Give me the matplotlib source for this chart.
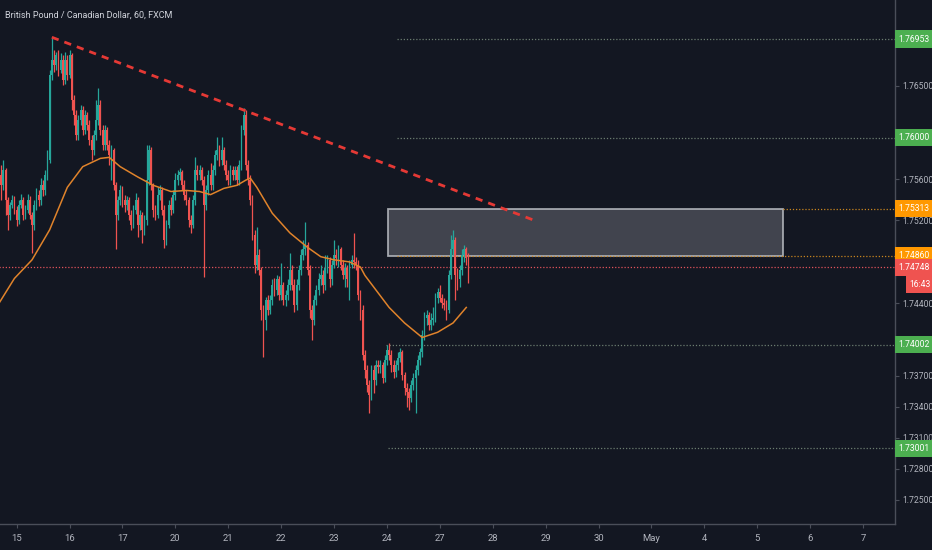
import numpy as np
import matplotlib.pyplot as plt
from matplotlib.patches import Rectangle

# --- GBPCAD 60 min candles (hour index 0 = start of the 15th) ---
first_open = 1.7564
closes = [
    1.7554, 1.7569, 1.7540, 1.7525, 1.7535, 1.7540, 1.7530,
    1.7520, 1.7535, 1.7540, 1.7525, 1.7530, 1.7540, 1.7525, 1.7516, 1.7535, 1.7545, 1.7540, 1.7554,
    1.7549, 1.7564, 1.7578, 1.7661, 1.7675, 1.7670, 1.7680, 1.7665, 1.7675, 1.7656, 1.7675, 1.7661,
    1.7680, 1.7636, 1.7622, 1.7603, 1.7617, 1.7627, 1.7607, 1.7622, 1.7612, 1.7598, 1.7588, 1.7603,
    1.7617, 1.7632, 1.7607, 1.7593, 1.7607, 1.7593, 1.7583, 1.7588, 1.7554, 1.7525, 1.7540, 1.7549,
    1.7540, 1.7535, 1.7540, 1.7525, 1.7516, 1.7530, 1.7540, 1.7516, 1.7525, 1.7511, 1.7520, 1.7559,
    1.7588, 1.7554, 1.7530, 1.7525, 1.7545, 1.7549, 1.7530, 1.7501, 1.7516, 1.7535, 1.7530, 1.7545,
    1.7559, 1.7564, 1.7567, 1.7554, 1.7545, 1.7540, 1.7520, 1.7516, 1.7540, 1.7569, 1.7564, 1.7569,
    1.7559, 1.7535, 1.7549, 1.7564, 1.7554, 1.7569, 1.7583, 1.7588, 1.7578, 1.7588, 1.7574, 1.7564,
    1.7559, 1.7569, 1.7564, 1.7569, 1.7559, 1.7574, 1.7607, 1.7622, 1.7574, 1.7559, 1.7540, 1.7506,
    1.7477, 1.7487, 1.7472, 1.7434, 1.7424, 1.7443, 1.7434, 1.7443, 1.7458, 1.7453, 1.7463, 1.7448,
    1.7458, 1.7443, 1.7448, 1.7458, 1.7472, 1.7458, 1.7438, 1.7458, 1.7472, 1.7487, 1.7492, 1.7496,
    1.7472, 1.7434, 1.7424, 1.7443, 1.7453, 1.7463, 1.7467, 1.7458, 1.7474, 1.7482, 1.7463, 1.7477,
    1.7487, 1.7484, 1.7492, 1.7477, 1.7467, 1.7474, 1.7463, 1.7477, 1.7482, 1.7480, 1.7477, 1.7448,
    1.7434, 1.7390, 1.7376, 1.7361, 1.7351, 1.7376, 1.7366, 1.7380, 1.7378, 1.7380, 1.7368, 1.7385,
    1.7395, 1.7390, 1.7380, 1.7374, 1.7380, 1.7387, 1.7393, 1.7371, 1.7358, 1.7354, 1.7349, 1.7361,
    1.7368, 1.7376, 1.7385, 1.7393, 1.7409, 1.7426, 1.7429, 1.7419, 1.7424, 1.7426, 1.7445, 1.7451,
    1.7445, 1.7440, 1.7438, 1.7434, 1.7467, 1.7492, 1.7501, 1.7467, 1.7463, 1.7472, 1.7487, 1.7492,
    1.7484, 1.74748,
]
highs = [
    1.7574, 1.7578, 1.7571, 1.7543, 1.7538, 1.7545, 1.7544,
    1.7534, 1.7540, 1.7546, 1.7543, 1.7535, 1.7546, 1.7544, 1.7528, 1.7540, 1.7551, 1.7549, 1.7561,
    1.7559, 1.7569, 1.7588, 1.7665, 1.7697, 1.7685, 1.7683, 1.7685, 1.7682, 1.7680, 1.7683, 1.7680,
    1.7685, 1.7682, 1.7641, 1.7627, 1.7622, 1.7632, 1.7631, 1.7627, 1.7625, 1.7617, 1.7603, 1.7607,
    1.7636, 1.7648, 1.7636, 1.7612, 1.7612, 1.7610, 1.7598, 1.7593, 1.7590, 1.7557, 1.7544, 1.7554,
    1.7553, 1.7545, 1.7544, 1.7543, 1.7530, 1.7535, 1.7547, 1.7543, 1.7530, 1.7528, 1.7525, 1.7593,
    1.7593, 1.7591, 1.7556, 1.7535, 1.7552, 1.7554, 1.7552, 1.7535, 1.7520, 1.7540, 1.7543, 1.7549,
    1.7566, 1.7569, 1.7571, 1.7569, 1.7559, 1.7549, 1.7543, 1.7525, 1.7545, 1.7581, 1.7574, 1.7574,
    1.7572, 1.7563, 1.7554, 1.7569, 1.7576, 1.7574, 1.7588, 1.7601, 1.7593, 1.7601, 1.7591, 1.7578,
    1.7569, 1.7574, 1.7573, 1.7573, 1.7573, 1.7578, 1.7612, 1.7629, 1.7627, 1.7578, 1.7564, 1.7545,
    1.7511, 1.7514, 1.7492, 1.7475, 1.7438, 1.7446, 1.7448, 1.7448, 1.7463, 1.7464, 1.7467, 1.7466,
    1.7479, 1.7461, 1.7453, 1.7463, 1.7489, 1.7477, 1.7463, 1.7463, 1.7477, 1.7492, 1.7501, 1.7519,
    1.7499, 1.7477, 1.7438, 1.7448, 1.7458, 1.7469, 1.7477, 1.7472, 1.7487, 1.7487, 1.7485, 1.7482,
    1.7501, 1.7492, 1.7496, 1.7494, 1.7482, 1.7479, 1.7477, 1.7482, 1.7487, 1.7508, 1.7485, 1.7482,
    1.7453, 1.7438, 1.7395, 1.7380, 1.7366, 1.7380, 1.7380, 1.7385, 1.7385, 1.7385, 1.7383, 1.7390,
    1.7400, 1.7402, 1.7395, 1.7385, 1.7385, 1.7393, 1.7397, 1.7395, 1.7374, 1.7363, 1.7358, 1.7366,
    1.7373, 1.7380, 1.7390, 1.7397, 1.7414, 1.7432, 1.7434, 1.7432, 1.7431, 1.7436, 1.7450, 1.7455,
    1.7458, 1.7449, 1.7445, 1.7443, 1.7472, 1.7506, 1.7511, 1.7504, 1.7474, 1.7477, 1.7492, 1.7496,
    1.7494, 1.7489,
]
lows = [
    1.7540, 1.7549, 1.7525, 1.7511, 1.7520, 1.7532, 1.7526,
    1.7515, 1.7517, 1.7532, 1.7520, 1.7521, 1.7527, 1.7521, 1.7489, 1.7511, 1.7530, 1.7534, 1.7535,
    1.7544, 1.7545, 1.7559, 1.7576, 1.7656, 1.7663, 1.7665, 1.7660, 1.7662, 1.7651, 1.7652, 1.7656,
    1.7658, 1.7627, 1.7612, 1.7598, 1.7598, 1.7612, 1.7603, 1.7604, 1.7607, 1.7593, 1.7578, 1.7583,
    1.7598, 1.7612, 1.7603, 1.7588, 1.7588, 1.7588, 1.7574, 1.7559, 1.7549, 1.7492, 1.7520, 1.7535,
    1.7533, 1.7528, 1.7530, 1.7520, 1.7511, 1.7513, 1.7526, 1.7504, 1.7511, 1.7498, 1.7506, 1.7516,
    1.7554, 1.7549, 1.7523, 1.7520, 1.7522, 1.7540, 1.7525, 1.7493, 1.7496, 1.7513, 1.7525, 1.7527,
    1.7540, 1.7554, 1.7559, 1.7549, 1.7540, 1.7535, 1.7514, 1.7508, 1.7513, 1.7535, 1.7559, 1.7559,
    1.7554, 1.7465, 1.7530, 1.7545, 1.7549, 1.7549, 1.7564, 1.7578, 1.7573, 1.7574, 1.7569, 1.7559,
    1.7554, 1.7554, 1.7559, 1.7559, 1.7554, 1.7554, 1.7569, 1.7603, 1.7569, 1.7554, 1.7535, 1.7501,
    1.7469, 1.7472, 1.7467, 1.7424, 1.7388, 1.7414, 1.7429, 1.7430, 1.7438, 1.7447, 1.7448, 1.7443,
    1.7443, 1.7438, 1.7437, 1.7443, 1.7453, 1.7453, 1.7432, 1.7434, 1.7453, 1.7467, 1.7482, 1.7487,
    1.7467, 1.7426, 1.7405, 1.7419, 1.7438, 1.7448, 1.7458, 1.7450, 1.7453, 1.7469, 1.7456, 1.7458,
    1.7474, 1.7477, 1.7475, 1.7472, 1.7463, 1.7456, 1.7456, 1.7443, 1.7474, 1.7474, 1.7472, 1.7443,
    1.7424, 1.7385, 1.7368, 1.7354, 1.7334, 1.7347, 1.7353, 1.7361, 1.7373, 1.7373, 1.7363, 1.7364,
    1.7380, 1.7385, 1.7374, 1.7368, 1.7369, 1.7376, 1.7383, 1.7366, 1.7351, 1.7340, 1.7337, 1.7345,
    1.7356, 1.7334, 1.7371, 1.7380, 1.7388, 1.7405, 1.7419, 1.7414, 1.7414, 1.7419, 1.7422, 1.7440,
    1.7441, 1.7435, 1.7434, 1.7424, 1.7431, 1.7463, 1.7487, 1.7443, 1.7453, 1.7456, 1.7467, 1.7480,
    1.7477, 1.7460,
]
first_hour = -7

# moving average
ma_hour = [-8, -1, 7, 15, 23, 30, 38, 42, 47, 55, 62, 70, 77, 83, 88, 94, 100, 104, 106,
           109, 116, 124, 132, 138, 144, 151, 156, 158, 169, 176, 184, 191, 198, 204]
ma_val = [1.7440, 1.7464, 1.7482, 1.7511, 1.7552, 1.7572, 1.7580, 1.7581, 1.7572, 1.7562,
          1.7554, 1.7548, 1.7549, 1.7548, 1.7545, 1.7551, 1.7554, 1.7559, 1.7561, 1.7552,
          1.7527, 1.7508, 1.7494, 1.7485, 1.7482, 1.7480, 1.7475, 1.7467, 1.7436, 1.7421,
          1.7407, 1.7412, 1.7421, 1.7436]

# drawings
trend_hour = [16, 235]
trend_price = [1.7697, 1.7520]
zone_hour = [168.5, 347.5]
zone_price = [1.74860, 1.75313]

level_price = [1.76953, 1.76000, 1.75313, 1.74860, 1.74748, 1.74002, 1.73001]
level_label = ['1.76953', '1.76000', '1.75313', '1.74860', '1.74748', '1.74002', '1.73001']
level_start = [172.5, 172.5, 347.5, 172.5, -8, 167.5, 168.5]
level_kind = ['green', 'green', 'orange', 'orange', 'red', 'green', 'green']
countdown = '16:43'

day_labels = ['15', '16', '17', '20', '21', '22', '23', '24', '27', '28', '29', '30',
              'May', '4', '5', '6', '7']
ytick_vals = [1.765, 1.756, 1.752, 1.744, 1.737, 1.734, 1.731, 1.728, 1.725]

# --- style ---
BG = '#131722'
UP = '#26a69a'
DOWN = '#ef5350'
TXT = '#b2b5be'
AXC = '#4a4e59'
dot_col = {'green': '#6b7d70', 'orange': '#c8851f', 'red': '#e0525a'}
box_col = {'green': '#4caf50', 'orange': '#ff9800', 'red': '#ef5350'}
plt.rcParams['font.family'] = ['Roboto', 'DejaVu Sans']
LAB = 6.2

fig = plt.figure(figsize=(9.32, 5.5), dpi=100, facecolor=BG)
ax = fig.add_axes([0, 26 / 550, 895 / 932, 524 / 550], facecolor=BG)

hours = np.arange(first_hour, first_hour + len(closes))
c = np.array(closes)
o = np.concatenate([[first_open], c[:-1]])
col = np.where(c >= o, UP, DOWN)

# zone under the candles
ax.add_patch(Rectangle((zone_hour[0], zone_price[0]), zone_hour[1] - zone_hour[0],
                       zone_price[1] - zone_price[0], facecolor='#4a4d56', alpha=0.85,
                       edgecolor='#b9bcc2', linewidth=1.3, zorder=1))

# levels
for p, s, k in zip(level_price, level_start, level_kind):
    ax.hlines(p, s, 400, colors=dot_col[k], linestyles=(0, (1, 1.5)), linewidth=0.9, zorder=2)

ax.vlines(hours, lows, highs, colors=col, linewidth=0.9, zorder=3)
ax.bar(hours, c - o, bottom=o, width=0.8, color=col, linewidth=0, zorder=4)

ax.plot(ma_hour, ma_val, color='#e0832b', linewidth=1.1, zorder=5)
ax.plot(trend_hour, trend_price, color='#e53935', linewidth=2,
        linestyle=(0, (2.6, 2.2)), zorder=6)

ax.set_xlim(-7.53, 398.5)
ax.set_ylim(1.72268, 1.7733)

ax.set_xticks(np.arange(len(day_labels)) * 24)
ax.set_xticklabels(day_labels)
ax.yaxis.tick_right()
ax.set_yticks(ytick_vals)
ax.set_yticklabels(['%.5f' % v for v in ytick_vals])
ax.tick_params(colors=AXC, labelcolor=TXT, labelsize=LAB, length=3, width=0.8, pad=2)
ax.tick_params(axis='x', labelsize=6.8, pad=4)
for sp in ['top', 'left']:
    ax.spines[sp].set_visible(False)
for sp in ['right', 'bottom']:
    ax.spines[sp].set_color(AXC)
    ax.spines[sp].set_linewidth(1)

# price labels on the scale: box to the figure edge, text on top
ytr = ax.get_yaxis_transform()
bh = 0.00165
for p, lab, k in zip(level_price, level_label, level_kind):
    ax.add_patch(Rectangle((1.0, p - bh / 2), 0.06, bh, transform=ytr, facecolor=box_col[k],
                           edgecolor='none', clip_on=False, zorder=9))
    ax.text(1.0 + 3 / 895, p, lab, transform=ytr, ha='left', va='center', fontsize=LAB,
            color='white', clip_on=False, zorder=10)
cd_y = level_price[4] - bh
ax.add_patch(Rectangle((1.0 + 11 / 895, cd_y - bh / 2), 0.06, bh, transform=ytr,
                       facecolor=box_col['red'], edgecolor='none', clip_on=False, zorder=9))
ax.text(1.0 + 14 / 895, cd_y, countdown, transform=ytr, ha='left', va='center', fontsize=LAB,
        color='white', clip_on=False, zorder=10)

fig.text(5 / 932, 1 - 15 / 550, 'British Pound / Canadian Dollar, 60, FXCM',
         color='#d1d4dc', fontsize=6.5, ha='left', va='center')

fig.savefig('out.png', dpi=100, facecolor=BG)
